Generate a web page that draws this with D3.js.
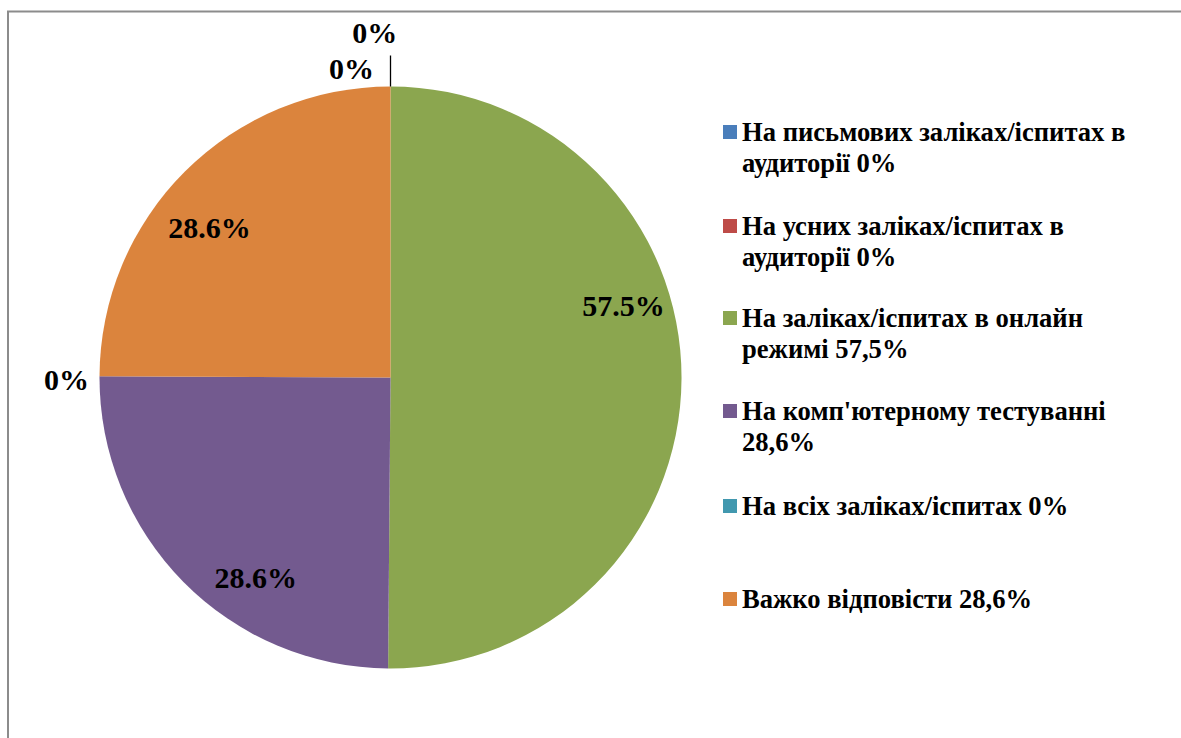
<!DOCTYPE html>
<html>
<head>
<meta charset="utf-8">
<script src="https://cdn.jsdelivr.net/npm/d3@7"></script>
<style>
  html, body { margin: 0; padding: 0; background: #fff; }
  svg { display: block; }
</style>
</head>
<body>
<svg id="chart" width="1181" height="738"></svg>
<script>
// ---- data ----
const categories = [
  "На письмових заліках/іспитах в аудиторії 0%",
  "На усних заліках/іспитах в аудиторії 0%",
  "На заліках/іспитах в онлайн режимі 57,5%",
  "На комп'ютерному тестуванні 28,6%",
  "На всіх заліках/іспитах 0%",
  "Важко відповісти 28,6%"
];
const values = [0, 0, 57.5, 28.6, 0, 28.6];
const dataLabels = ["0%", "0%", "57.5%", "28.6%", "0%", "28.6%"];
const colors = ["#4A7EBB", "#BE4B48", "#8BA64F", "#735A8F", "#4198AF", "#DB843D"];

// ---- layout (not data) ----
const W = 1181, H = 738;
const cx = 390.5, cy = 377.5, R = 291;
const FONT = "'Liberation Serif', 'Times New Roman', serif";
// label placements in polar form (degrees clockwise from top, radius in px)
const labelPolar = [
  { a: -2.6, r: 345 },
  { a: -7.2, r: 311.5 },
  { a: 72.8, r: 244 },
  { a: 214.0, r: 241 },
  { a: 269.7, r: 324 },
  { a: 309.6, r: 235 }
];

const svg = d3.select("#chart");

// frame
svg.append("rect")
  .attr("x", 8).attr("y", 11.5)
  .attr("width", W + 20).attr("height", H + 20)
  .attr("fill", "none").attr("stroke", "#8c8c8c").attr("stroke-width", 2);

const pie = d3.pie().value(d => d).sort(null);
const arcs = pie(values);
const arc = d3.arc().innerRadius(0).outerRadius(R);

const g = svg.append("g").attr("transform", `translate(${cx},${cy})`);
g.selectAll("path.slice")
  .data(arcs)
  .join("path")
  .attr("class", "slice")
  .attr("d", arc)
  .attr("fill", (d, i) => colors[i]);

// leader line for the top zero labels
const rad = d3.scaleLinear().domain([0, 360]).range([0, 2 * Math.PI]);
g.append("line")
  .attr("x1", 0).attr("y1", -R)
  .attr("x2", 0).attr("y2", -R - 31)
  .attr("stroke", "#000").attr("stroke-width", 1.3);

g.selectAll("text.lbl")
  .data(arcs)
  .join("text")
  .attr("class", "lbl")
  .attr("x", (d, i) => Math.sin(rad(labelPolar[i].a)) * labelPolar[i].r)
  .attr("y", (d, i) => -Math.cos(rad(labelPolar[i].a)) * labelPolar[i].r)
  .attr("text-anchor", "middle")
  .attr("dominant-baseline", "central")
  .style("font-family", FONT)
  .style("font-weight", "bold")
  .style("font-size", "30px")
  .text((d, i) => dataLabels[i]);

// legend
const legendX = 723, textX = 742;
const legendBase = [141, 235, 327, 420, 515, 608];
const lineH = 31;
const maxW = 400;
const lg = svg.append("g");
categories.forEach((c, i) => {
  const t = lg.append("text")
    .attr("x", textX).attr("y", legendBase[i])
    .style("font-family", FONT)
    .style("font-weight", "bold")
    .style("font-size", "26.6px");
  const words = c.split(" ");
  let line = [], lineNo = 0;
  let ts = t.append("tspan").attr("x", textX).attr("y", legendBase[i]);
  words.forEach(w => {
    line.push(w);
    ts.text(line.join(" "));
    if (ts.node().getComputedTextLength() > maxW && line.length > 1) {
      line.pop();
      ts.text(line.join(" "));
      line = [w];
      lineNo++;
      ts = t.append("tspan").attr("x", textX).attr("y", legendBase[i] + lineNo * lineH).text(w);
    }
  });
  lg.append("rect")
    .attr("x", legendX).attr("y", legendBase[i] - 16)
    .attr("width", 14).attr("height", 14)
    .attr("fill", colors[i]);
});
</script>
</body>
</html>
